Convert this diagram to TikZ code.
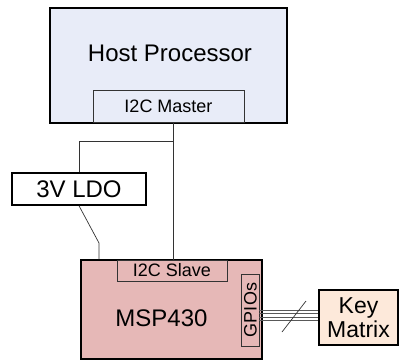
\documentclass[tikz,border=0pt]{standalone}
\usepackage{fontspec}
\setmainfont{Liberation Sans}
\begin{document}
\begin{tikzpicture}[x=1pt,y=-1pt,
  block/.style={draw=black,line width=1.5pt,inner sep=0pt,font=\fontsize{24}{26}\selectfont},
  port/.style={draw=black!80,line width=0.8pt,inner sep=0pt,font=\fontsize{18}{20}\selectfont},
  wire/.style={draw=black!80,line width=0.7pt}]
\useasboundingbox (0,0) rectangle (399,360);
% host
\node[block,fill={rgb,255:red,232;green,236;blue,248},minimum width=237,minimum height=115] (host) at (168.5,65.5) {};
\node (hosttext) at (170,53) {\fontsize{24}{26}\selectfont Host Processor};
\node[port,minimum width=151,minimum height=32] (master) at (168.5,106.5) {I2C Master};
% ldo
\node[block,fill=white,minimum width=134,minimum height=32] (ldo) at (79,189) {3V LDO};
% msp430
\node[block,fill={rgb,255:red,230;green,184;blue,183},minimum width=181,minimum height=99] (msp) at (171.5,309.5) {};
\node (msptext) at (161.5,318) {\fontsize{24}{26}\selectfont MSP430};
\node[port,minimum width=110,minimum height=21] (slave) at (172,270.5) {I2C Slave};
\node[port,minimum width=18,minimum height=72] (gpio) at (250,310) {};
\node[rotate=90,font=\fontsize{18}{20}\selectfont] (gpiotext) at (250.5,310) {GPIOs};
% keys
\node[block,fill={rgb,255:red,253;green,233;blue,218},minimum width=79,minimum height=55,align=center,font=\fontsize{23}{24}\selectfont] (keys) at (358.5,317.5) {Key\\Matrix};
% wires
\coordinate (tap) at (173,141);
\coordinate (bend) at (99,243);
\draw[wire] (tap |- master.south) -- (tap |- slave.north);
\draw[wire] (tap) -| (ldo.north);
\draw[wire] (ldo.south) -- (bend) -- (bend |- msp.north);
\foreach \y in {310.5,313.5,317,320.5}
  \draw[wire,draw=black!65] (gpio.east |- 0,\y) -- (keys.west |- 0,\y);
\draw[wire] (282,332) -- (306,301);
\end{tikzpicture}
\end{document}
